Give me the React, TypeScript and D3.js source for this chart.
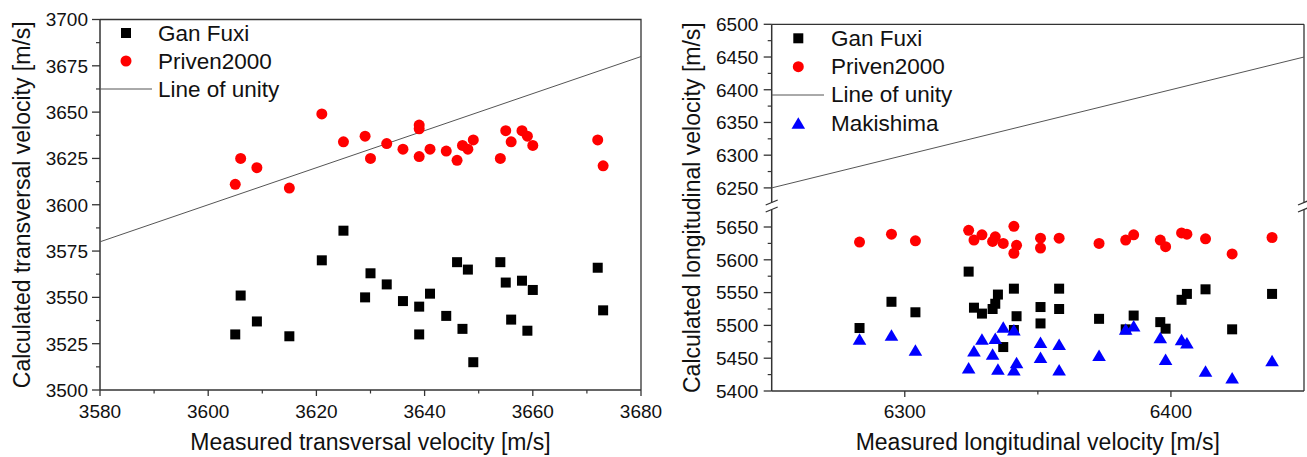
import React from 'react';
import * as d3 from 'd3';

// ---------- Left chart: transversal velocity ----------
const transGanX = [3605, 3606, 3609, 3615, 3621, 3625, 3629, 3630, 3633, 3636, 3639, 3639, 3641, 3644, 3646, 3647, 3648, 3649, 3654, 3655, 3656, 3658, 3659, 3660, 3672, 3673];
const transGanY = [3530, 3551, 3537, 3529, 3570, 3586, 3550, 3563, 3557, 3548, 3545, 3530, 3552, 3540, 3569, 3533, 3565, 3515, 3569, 3558, 3538, 3559, 3532, 3554, 3566, 3543];
const transPrivenX = [3605, 3606, 3609, 3615, 3621, 3625, 3629, 3630, 3633, 3636, 3639, 3639, 3639, 3641, 3644, 3646, 3647, 3648, 3649, 3654, 3655, 3656, 3658, 3659, 3660, 3672, 3673];
const transPrivenY = [3611, 3625, 3620, 3609, 3649, 3634, 3637, 3625, 3633, 3630, 3643, 3641, 3626, 3630, 3629, 3624, 3632, 3630, 3635, 3625, 3640, 3634, 3640, 3637, 3632, 3635, 3621];
const transXTicks = [3580, 3600, 3620, 3640, 3660, 3680];
const transYTicks = [3500, 3525, 3550, 3575, 3600, 3625, 3650, 3675, 3700];

// ---------- Right chart: longitudinal velocity ----------
const longGanX = [6283, 6295, 6304, 6324, 6326, 6329, 6333, 6334, 6335, 6337, 6341, 6341, 6342, 6351, 6351, 6358, 6358, 6373, 6383, 6386, 6396, 6398, 6404, 6406, 6413, 6423, 6438];
const longGanY = [5496, 5536, 5520, 5582, 5527, 5518, 5525, 5533, 5547, 5467, 5556, 5493, 5514, 5528, 5503, 5556, 5525, 5510, 5494, 5515, 5505, 5495, 5539, 5548, 5555, 5494, 5548];
const longPrivenX = [6283, 6295, 6304, 6324, 6326, 6329, 6333, 6334, 6337, 6341, 6341, 6342, 6351, 6351, 6358, 6373, 6383, 6386, 6396, 6398, 6404, 6406, 6413, 6423, 6438];
const longPrivenY = [5627, 5639, 5629, 5645, 5630, 5638, 5628, 5635, 5625, 5651, 5610, 5622, 5633, 5618, 5633, 5625, 5630, 5638, 5630, 5620, 5641, 5639, 5632, 5609, 5634];
const longMakiX = [6283, 6295, 6304, 6324, 6326, 6329, 6333, 6334, 6335, 6337, 6341, 6342, 6341, 6351, 6351, 6358, 6358, 6373, 6383, 6386, 6396, 6398, 6404, 6406, 6413, 6423, 6438];
const longMakiY = [5479, 5485, 5462, 5435, 5461, 5479, 5456, 5480, 5433, 5497, 5493, 5443, 5432, 5474, 5451, 5471, 5432, 5454, 5494, 5499, 5481, 5448, 5478, 5473, 5430, 5420, 5446];
const longXTicks = [6300, 6400];
const longXMinor = [6350];
const longYTicksUpper = [6250, 6300, 6350, 6400, 6450, 6500];
const longYTicksLower = [5400, 5450, 5500, 5550, 5600, 5650];

const legendLeft = ['Gan Fuxi', 'Priven2000', 'Line of unity'];
const legendRight = ['Gan Fuxi', 'Priven2000', 'Line of unity', 'Makishima'];

const FONT = "'Liberation Sans', Arial, Helvetica, sans-serif";
const AX = '#333333';
const UNITY = '#555555';

const Square = ({ x, y }: { x: number; y: number }) => (
  <rect x={x - 5} y={y - 5} width={10} height={10} fill="#000" />
);
const Dot = ({ x, y }: { x: number; y: number }) => (
  <circle cx={x} cy={y} r={5.5} fill="#ff0000" />
);
const Tri = ({ x, y }: { x: number; y: number }) => (
  <path d={`M${x},${y - 6}L${x + 6.8},${y + 5.5}L${x - 6.8},${y + 5.5}Z`} fill="#0000ff" />
);

function LeftChart() {
  const x = d3.scaleLinear().domain([3580, 3680]).range([100, 641]);
  const y = d3.scaleLinear().domain([3500, 3700]).range([390, 19.5]);
  const xMinor = d3.range(3590, 3680, 20);
  const yMinor = d3.range(3512.5, 3700, 25);
  const lineGen = d3.line<[number, number]>().x(d => x(d[0])).y(d => y(d[1]));
  const unity: [number, number][] = [[3580, 3580], [3680, 3680]];
  return (
    <g>
      {/* frame */}
      <path d={`M${x(3580)},${y(3700)}H${x(3680)}V${y(3500)}`} fill="none" stroke={AX} strokeWidth={1.3} />
      <line x1={x(3580)} x2={x(3680)} y1={y(3500)} y2={y(3500)} stroke={AX} strokeWidth={1.5} />
      <line x1={x(3580)} x2={x(3580)} y1={y(3500)} y2={y(3700)} stroke={AX} strokeWidth={1.5} />
      {transXTicks.map(t => (
        <g key={'xt' + t}>
          <line x1={x(t)} x2={x(t)} y1={y(3500)} y2={y(3500) + 6} stroke={AX} strokeWidth={1.3} />
          <text x={x(t)} y={418} textAnchor="middle" fontSize={19} fontFamily={FONT} fill="#111">{t}</text>
        </g>
      ))}
      {xMinor.map(t => (
        <line key={'xm' + t} x1={x(t)} x2={x(t)} y1={y(3500)} y2={y(3500) + 3.5} stroke={AX} strokeWidth={1.2} />
      ))}
      {transYTicks.map(t => (
        <g key={'yt' + t}>
          <line x1={x(3580) - 8} x2={x(3580)} y1={y(t)} y2={y(t)} stroke={AX} strokeWidth={1.3} />
          <text x={88} y={y(t)} dy="0.36em" textAnchor="end" fontSize={19} fontFamily={FONT} fill="#111">{t}</text>
        </g>
      ))}
      {yMinor.map(t => (
        <line key={'ym' + t} x1={x(3580) - 4} x2={x(3580)} y1={y(t)} y2={y(t)} stroke={AX} strokeWidth={1.2} />
      ))}
      <path d={lineGen(unity) || ''} stroke={UNITY} strokeWidth={1} fill="none" />
      {transGanX.map((v, i) => <Square key={'g' + i} x={x(v)} y={y(transGanY[i])} />)}
      {transPrivenX.map((v, i) => <Dot key={'p' + i} x={x(v)} y={y(transPrivenY[i])} />)}
      {/* legend */}
      <Square x={126} y={33} />
      <text x={158} y={40.7} fontSize={22.5} fontFamily={FONT} fill="#111">{legendLeft[0]}</text>
      <Dot x={126} y={61} />
      <text x={158} y={68.5} fontSize={22.5} fontFamily={FONT} fill="#111">{legendLeft[1]}</text>
      <line x1={100} x2={152} y1={89} y2={89} stroke={UNITY} strokeWidth={1} />
      <text x={158} y={97} fontSize={22.5} fontFamily={FONT} fill="#111">{legendLeft[2]}</text>
      {/* titles */}
      <text x={x(3630)} y={450} textAnchor="middle" fontSize={23} fontFamily={FONT} fill="#111">Measured transversal velocity [m/s]</text>
      <text transform={`translate(29.5,${(y(3500) + y(3700)) / 2}) rotate(-90)`} textAnchor="middle" fontSize={23} fontFamily={FONT} fill="#111">Calculated transversal velocity [m/s]</text>
    </g>
  );
}

function RightChart() {
  const x = d3.scaleLinear().domain([6250, 6450]).range([771.7, 1304]);
  const yU = d3.scaleLinear().domain([6250, 6500]).range([187.9, 24.3]);
  const yL = d3.scaleLinear().domain([5400, 5650]).range([391, 227]);
  const xl = x(6250), xr = x(6450);
  const topY = yU(6500), botY = yL(5400);
  const breakTop = 202.5, breakBot = 209.5;
  const yMinorU = d3.range(6275, 6500, 50);
  const yMinorL = d3.range(5425, 5650, 50);
  const lineGen = d3.line<[number, number]>().x(d => x(d[0])).y(d => yU(d[1]));
  const unity: [number, number][] = [[6250, 6250], [6450, 6450]];
  const breakMarks = (cx: number) => (
    <g>
      <line x1={cx - 6} x2={cx + 6} y1={breakTop + 2.5} y2={breakTop - 2.5} stroke={AX} strokeWidth={1.3} />
      <line x1={cx - 6} x2={cx + 6} y1={breakBot + 2.5} y2={breakBot - 2.5} stroke={AX} strokeWidth={1.3} />
    </g>
  );
  return (
    <g>
      {/* frame */}
      <line x1={xl} x2={xr} y1={topY} y2={topY} stroke={AX} strokeWidth={1.3} />
      <line x1={xl} x2={xr} y1={botY} y2={botY} stroke={AX} strokeWidth={1.5} />
      <line x1={xl} x2={xl} y1={topY} y2={breakTop} stroke={AX} strokeWidth={1.5} />
      <line x1={xl} x2={xl} y1={breakBot} y2={botY} stroke={AX} strokeWidth={1.5} />
      <line x1={xr} x2={xr} y1={topY} y2={breakTop} stroke={AX} strokeWidth={1.3} />
      <line x1={xr} x2={xr} y1={breakBot} y2={botY} stroke={AX} strokeWidth={1.3} />
      {breakMarks(xl)}
      {breakMarks(xr)}
      {longXTicks.map(t => (
        <g key={'xt' + t}>
          <line x1={x(t)} x2={x(t)} y1={botY} y2={botY + 6} stroke={AX} strokeWidth={1.3} />
          <text x={x(t)} y={418} textAnchor="middle" fontSize={19} fontFamily={FONT} fill="#111">{t}</text>
        </g>
      ))}
      {longXMinor.map(t => (
        <line key={'xm' + t} x1={x(t)} x2={x(t)} y1={botY} y2={botY + 3.5} stroke={AX} strokeWidth={1.2} />
      ))}
      {longYTicksUpper.map(t => (
        <g key={'yu' + t}>
          <line x1={xl - 8} x2={xl} y1={yU(t)} y2={yU(t)} stroke={AX} strokeWidth={1.3} />
          <text x={758.3} y={yU(t)} dy="0.36em" textAnchor="end" fontSize={19} fontFamily={FONT} fill="#111">{t}</text>
        </g>
      ))}
      {longYTicksLower.map(t => (
        <g key={'yl' + t}>
          <line x1={xl - 8} x2={xl} y1={yL(t)} y2={yL(t)} stroke={AX} strokeWidth={1.3} />
          <text x={758.3} y={yL(t)} dy="0.36em" textAnchor="end" fontSize={19} fontFamily={FONT} fill="#111">{t}</text>
        </g>
      ))}
      {yMinorU.map(t => (
        <line key={'ymu' + t} x1={xl - 4} x2={xl} y1={yU(t)} y2={yU(t)} stroke={AX} strokeWidth={1.2} />
      ))}
      {yMinorL.map(t => (
        <line key={'yml' + t} x1={xl - 4} x2={xl} y1={yL(t)} y2={yL(t)} stroke={AX} strokeWidth={1.2} />
      ))}
      <path d={lineGen(unity) || ''} stroke={UNITY} strokeWidth={1} fill="none" />
      {longGanX.map((v, i) => <Square key={'g' + i} x={x(v)} y={yL(longGanY[i])} />)}
      {longPrivenX.map((v, i) => <Dot key={'p' + i} x={x(v)} y={yL(longPrivenY[i])} />)}
      {longMakiX.map((v, i) => <Tri key={'m' + i} x={x(v)} y={yL(longMakiY[i])} />)}
      {/* legend */}
      <Square x={798.3} y={38.3} />
      <text x={831} y={46} fontSize={22.5} fontFamily={FONT} fill="#111">{legendRight[0]}</text>
      <Dot x={798.3} y={66.7} />
      <text x={831} y={74} fontSize={22.5} fontFamily={FONT} fill="#111">{legendRight[1]}</text>
      <line x1={xl} x2={824} y1={95} y2={95} stroke={UNITY} strokeWidth={1} />
      <text x={831} y={102.3} fontSize={22.5} fontFamily={FONT} fill="#111">{legendRight[2]}</text>
      <Tri x={798.3} y={123.3} />
      <text x={831} y={131} fontSize={22.5} fontFamily={FONT} fill="#111">{legendRight[3]}</text>
      {/* titles */}
      <text x={(xl + xr) / 2} y={450} textAnchor="middle" fontSize={23} fontFamily={FONT} fill="#111">Measured longitudinal velocity [m/s]</text>
      <text transform={`translate(700,${(topY + botY) / 2}) rotate(-90)`} textAnchor="middle" fontSize={23} fontFamily={FONT} fill="#111">Calculated longitudinal velocity [m/s]</text>
    </g>
  );
}

export default function App() {
  return (
    <svg
      width={1307}
      height={457}
      viewBox="0 0 1307 457"
      style={{ position: 'absolute', left: 0, top: 0, background: '#fff' }}
    >
      <rect x={0} y={0} width={1307} height={457} fill="#fff" />
      <LeftChart />
      <RightChart />
    </svg>
  );
}
